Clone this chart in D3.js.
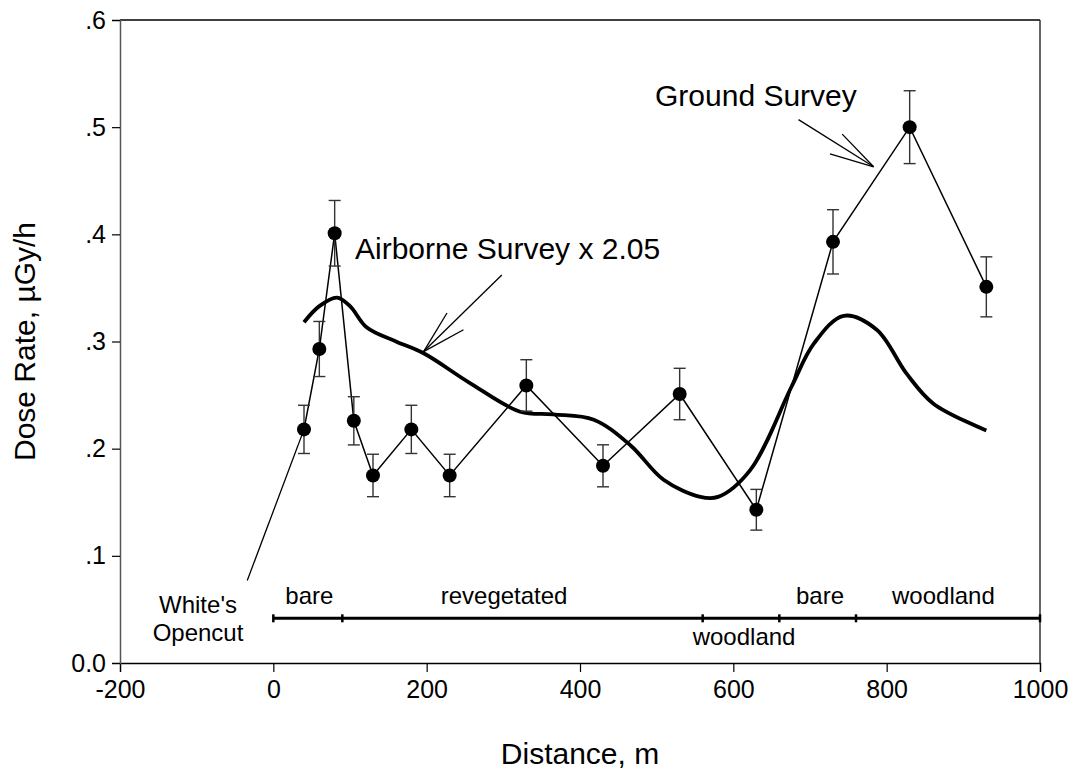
<!DOCTYPE html>
<html>
<head>
<meta charset="utf-8">
<script src="https://cdn.jsdelivr.net/npm/d3@7"></script>
<style>
  body { margin: 0; background: #fff; }
  svg { font-family: "Liberation Sans", Arial, sans-serif; }
</style>
</head>
<body>
<svg id="chart" width="1078" height="774"></svg>
<script>
// ground survey points (distance m, dose rate uGy/h, +/- error)
let groundX = [40, 60, 80, 105, 130, 180, 230, 330, 430, 530, 630, 730, 830, 930];
let groundY = [0.218, 0.293, 0.401, 0.226, 0.175, 0.218, 0.175, 0.259, 0.184, 0.251, 0.143, 0.393, 0.500, 0.351];
let groundErr = [0.0225, 0.0257, 0.0306, 0.0225, 0.0198, 0.0225, 0.0198, 0.024, 0.0196, 0.024, 0.019, 0.030, 0.034, 0.028];

// airborne survey x 2.05 (smooth curve)
let airX = [40, 60, 83, 100, 122, 160, 196, 257, 322, 365, 418, 466, 509, 557, 580, 622, 676, 705, 744, 787, 826, 861, 930];
let airY = [0.318, 0.333, 0.341, 0.333, 0.313, 0.300, 0.289, 0.261, 0.2345, 0.232, 0.227, 0.203, 0.171, 0.155, 0.155, 0.180, 0.258, 0.298, 0.324, 0.311, 0.270, 0.242, 0.217];

let xTicks = [-200, 0, 200, 400, 600, 800, 1000];
let xTickLabels = ["-200", "0", "200", "400", "600", "800", "1000"];
let yTicks = [0, 0.1, 0.2, 0.3, 0.4, 0.5, 0.6];
let yTickLabels = ["0.0", ".1", ".2", ".3", ".4", ".5", ".6"];

// land cover zones along the transect
let zoneBounds = [0, 90, 560, 660, 760, 1000];
let zoneNames = ["bare", "revegetated", "woodland", "bare", "woodland"];
let zoneLabelX = [47, 301, 614, 713, 874];
let zoneLabelSide = ["above", "above", "below", "above", "above"];
let zoneLevel = 0.0417;

let svg = d3.select("#chart");
let margin = { top: 20, right: 38, bottom: 111, left: 120 };
let width = 1078, height = 774;

let x = d3.scaleLinear().domain([-200, 1000]).range([margin.left, width - margin.right]);
let y = d3.scaleLinear().domain([0, 0.6]).range([height - margin.bottom, margin.top]);

// frame (top + right)
svg.append("line")
  .attr("x1", x(-200)).attr("x2", x(1000))
  .attr("y1", y(0.6)).attr("y2", y(0.6))
  .attr("stroke", "#000").attr("stroke-width", 1.3);
svg.append("line")
  .attr("x1", x(1000)).attr("x2", x(1000))
  .attr("y1", y(0.6)).attr("y2", y(0))
  .attr("stroke", "#333").attr("stroke-width", 1.5);

// axes
let xAxis = svg.append("g")
  .attr("transform", "translate(0," + y(0) + ")")
  .call(d3.axisBottom(x).tickValues(xTicks).tickSize(9).tickPadding(8).tickFormat((d, i) => xTickLabels[i]));
xAxis.select(".domain").attr("stroke", "#000").attr("stroke-width", 1.3);
xAxis.selectAll(".tick line").attr("stroke", "#000").attr("stroke-width", 1.2);
xAxis.selectAll("text").attr("font-size", 25).attr("fill", "#000").attr("font-family", "Liberation Sans, Arial, sans-serif");

let yAxis = svg.append("g")
  .attr("transform", "translate(" + x(-200) + ",0)")
  .call(d3.axisLeft(y).tickValues(yTicks).tickSize(8).tickPadding(6).tickFormat((d, i) => yTickLabels[i]));
yAxis.select(".domain").attr("stroke", "#555").attr("stroke-width", 1.5);
yAxis.selectAll(".tick line").attr("stroke", "#000").attr("stroke-width", 1.2);
yAxis.selectAll("text").attr("font-size", 25).attr("fill", "#000").attr("font-family", "Liberation Sans, Arial, sans-serif");

// axis titles
svg.append("text")
  .attr("x", x(400)).attr("y", 764)
  .attr("text-anchor", "middle").attr("font-size", 30)
  .text("Distance, m");
svg.append("text")
  .attr("transform", "translate(35," + (y(0.3)) + ") rotate(-90)")
  .attr("text-anchor", "middle").attr("font-size", 30)
  .text("Dose Rate, µGy/h");

// zone line with end ticks
svg.append("line")
  .attr("x1", x(zoneBounds[0])).attr("x2", x(zoneBounds[zoneBounds.length - 1]))
  .attr("y1", y(zoneLevel)).attr("y2", y(zoneLevel))
  .attr("stroke", "#000").attr("stroke-width", 3);
svg.selectAll(".zone-tick")
  .data(zoneBounds)
  .join("line")
    .attr("class", "zone-tick")
    .attr("x1", d => x(d)).attr("x2", d => x(d))
    .attr("y1", y(zoneLevel) - 4).attr("y2", y(zoneLevel) + 4)
    .attr("stroke", "#000").attr("stroke-width", 2.5);
svg.selectAll(".zone-label")
  .data(zoneNames)
  .join("text")
    .attr("class", "zone-label")
    .attr("x", (d, i) => x(zoneLabelX[i]))
    .attr("y", (d, i) => zoneLabelSide[i] == "above" ? y(zoneLevel) - 14 : y(zoneLevel) + 27)
    .attr("text-anchor", "middle").attr("font-size", 24)
    .text(d => d);

// White's Opencut label + leader
let opencut = svg.append("text")
  .attr("text-anchor", "middle").attr("font-size", 24);
opencut.append("tspan").attr("x", 198).attr("y", 613).text("White's");
opencut.append("tspan").attr("x", 198).attr("y", 641).text("Opencut");
svg.append("line")
  .attr("x1", x(-34)).attr("y1", y(0.077))
  .attr("x2", x(groundX[0])).attr("y2", y(groundY[0]))
  .attr("stroke", "#000").attr("stroke-width", 1.3);

// airborne curve
let airData = airX.map((d, i) => [d, airY[i]]);
svg.append("path")
  .datum(airData)
  .attr("fill", "none").attr("stroke", "#000").attr("stroke-width", 3.8)
  .attr("d", d3.line().x(d => x(d[0])).y(d => y(d[1])).curve(d3.curveCatmullRom.alpha(0.5)));

// ground survey
let groundData = groundX.map((d, i) => ({ x: d, y: groundY[i], e: groundErr[i] }));
svg.append("path")
  .datum(groundData)
  .attr("fill", "none").attr("stroke", "#000").attr("stroke-width", 1.5)
  .attr("d", d3.line().x(d => x(d.x)).y(d => y(d.y)));

let errs = svg.append("g").attr("stroke", "#333").attr("stroke-width", 1.4);
errs.selectAll(".ebar")
  .data(groundData)
  .join("line")
    .attr("x1", d => x(d.x)).attr("x2", d => x(d.x))
    .attr("y1", d => y(d.y - d.e)).attr("y2", d => y(d.y + d.e));
errs.selectAll(".cap-top")
  .data(groundData)
  .join("line")
    .attr("class", "cap-top")
    .attr("x1", d => x(d.x) - 6).attr("x2", d => x(d.x) + 6)
    .attr("y1", d => y(d.y + d.e)).attr("y2", d => y(d.y + d.e));
errs.selectAll(".cap-bot")
  .data(groundData)
  .join("line")
    .attr("class", "cap-bot")
    .attr("x1", d => x(d.x) - 6).attr("x2", d => x(d.x) + 6)
    .attr("y1", d => y(d.y - d.e)).attr("y2", d => y(d.y - d.e));

svg.selectAll(".dot")
  .data(groundData)
  .join("circle")
    .attr("class", "dot")
    .attr("cx", d => x(d.x)).attr("cy", d => y(d.y))
    .attr("r", 7).attr("fill", "#000");

// annotations with open arrowheads
let drawArrow = function(from, tip, barbs) {
  let g = svg.append("g").attr("stroke", "#000").attr("stroke-width", 1.3);
  g.append("line")
    .attr("x1", x(from[0])).attr("y1", y(from[1]))
    .attr("x2", x(tip[0])).attr("y2", y(tip[1]));
  barbs.forEach(b => {
    g.append("line")
      .attr("x1", x(b[0])).attr("y1", y(b[1]))
      .attr("x2", x(tip[0])).attr("y2", y(tip[1]));
  });
};

drawArrow([298, 0.362], [196, 0.2906], [[226.5, 0.3266], [248, 0.311]]);
drawArrow([685, 0.507], [783, 0.463], [[742, 0.4935], [726, 0.475]]);

svg.append("text")
  .attr("x", 355).attr("y", 259)
  .attr("font-size", 30)
  .text("Airborne Survey x 2.05");
svg.append("text")
  .attr("x", 655).attr("y", 106)
  .attr("font-size", 30)
  .text("Ground Survey");
</script>
</body>
</html>
